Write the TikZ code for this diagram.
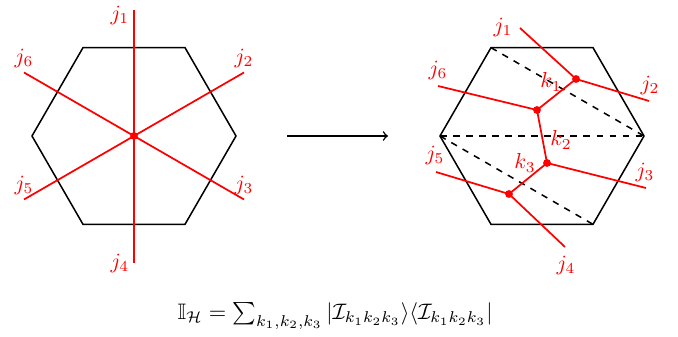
\documentclass[tikz,border=0pt]{standalone}
\usepackage{amsmath,amssymb}
\usetikzlibrary{positioning,arrows,calc}

\tikzset{
  hexline/.style={draw=black, line width=0.7pt},
  leg/.style={draw=red, line width=0.8pt},
  vtx/.style={circle, fill=red, inner sep=0pt, minimum size=3.6pt},
  lbl/.style={text=red, inner sep=1pt}
}

\begin{document}
\begin{tikzpicture}[x=0.46pt,y=-0.46pt]
\useasboundingbox (0,0) rectangle (678,337);

% single vertex
\coordinate (c1) at (134,136);
\draw[hexline] (c1) +(0:102) -- +(60:102) -- +(120:102) -- +(180:102) -- +(240:102) -- +(300:102) -- cycle;
\coordinate (a1) at ($(c1)+(-90:126)$);
\coordinate (a2) at ($(c1)+(-30:127)$);
\coordinate (a3) at ($(c1)+(30:127)$);
\coordinate (a4) at ($(c1)+(90:127)$);
\coordinate (a5) at ($(c1)+(150:127)$);
\coordinate (a6) at ($(c1)+(210:127)$);
\draw[leg] (a1) -- (a4);
\draw[leg] (a2) -- (a5);
\draw[leg] (a3) -- (a6);
\node[vtx] (v0) at (c1) {};
\node[lbl, left=1pt of a1, yshift=-2.5pt] (la1) {$j_1$};
\node[lbl, above=1pt of a2] (la2) {$j_2$};
\node[lbl, above=1pt of a3] (la3) {$j_3$};
\node[lbl, left=1pt of a4] (la4) {$j_4$};
\node[lbl, above=1pt of a5] (la5) {$j_5$};
\node[lbl, above=1pt of a6] (la6) {$j_6$};

\coordinate (arrL) at (287,136);
\coordinate (arrR) at (388,136);
\draw[->, line width=0.7pt] (arrL) -- (arrR);

% decomposed vertex
\coordinate (c2) at (542,136);
\coordinate (h1) at ($(c2)+(0:102)$);
\coordinate (h2) at ($(c2)+(60:102)$);
\coordinate (h3) at ($(c2)+(120:102)$);
\coordinate (h4) at ($(c2)+(180:102)$);
\coordinate (h5) at ($(c2)+(240:102)$);
\coordinate (h6) at ($(c2)+(300:102)$);
\draw[hexline] (h1) -- (h2) -- (h3) -- (h4) -- (h5) -- (h6) -- cycle;
\draw[hexline, dashed] (h5) -- (h1);
\draw[hexline, dashed] (h4) -- (h1);
\draw[hexline, dashed] (h4) -- (h2);

\node[vtx] (kA) at (576,79) {};
\node[vtx] (kB) at (537,110) {};
\node[vtx] (kC) at (547,163) {};
\node[vtx] (kD) at (509,194) {};
\coordinate (b1) at (520,28);
\coordinate (b2) at (649,101);
\coordinate (b3) at (646,188);
\coordinate (b4) at (565,247);
\coordinate (b5) at (436,172);
\coordinate (b6) at (438,86);
\draw[leg] (b1) -- (kA.center) -- (b2);
\draw[leg] (kA.center) -- (kB.center) -- (b6);
\draw[leg] (kB.center) -- (kC.center) -- (b3);
\draw[leg] (kC.center) -- (kD.center) -- (b5);
\draw[leg] (kD.center) -- (b4);
\node[lbl] (lb1) at (503,27) {$j_1$};
\node[lbl] (lb2) at (650,85) {$j_2$};
\node[lbl] (lb3) at (645,172) {$j_3$};
\node[lbl] (lb4) at (566,265) {$j_4$};
\node[lbl] (lb5) at (435,155) {$j_5$};
\node[lbl] (lb6) at (438,70) {$j_6$};
\node[lbl] (lk1) at (551,82) {$k_1$};
\node[lbl] (lk2) at (561,140) {$k_2$};
\node[lbl] (lk3) at (525,163) {$k_3$};

\node[scale=1.03] (eq) at (335,316) {$\mathbb{I}_{\mathcal{H}} = \sum_{k_1,k_2,k_3} |\mathcal{I}_{k_1k_2k_3}\rangle\langle\mathcal{I}_{k_1k_2k_3}|$};
\end{tikzpicture}
\end{document}
